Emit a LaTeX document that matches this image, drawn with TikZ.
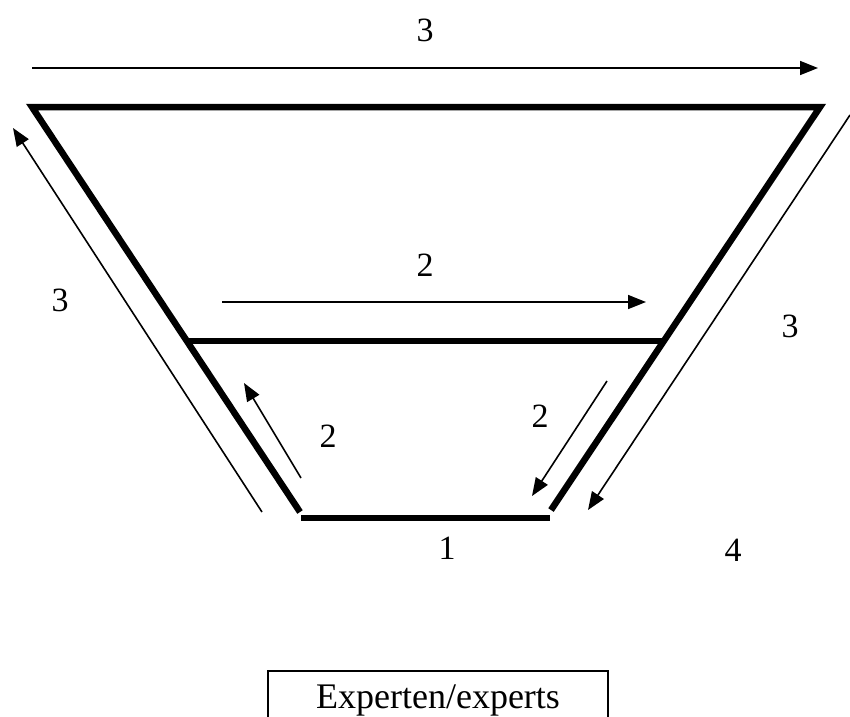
\documentclass[tikz,border=0pt]{standalone}
\usepackage{fontspec}
\setmainfont{Liberation Serif}
\usetikzlibrary{arrows.meta}
\begin{document}
\begin{tikzpicture}[x=1pt,y=-1pt,
  thickline/.style={line width=6.5pt,line join=miter},
  thinarrow/.style={line width=1.6pt,-{Triangle[length=18pt,width=14pt]}},
  lbl/.style={font=\fontsize{34}{40}\selectfont,inner sep=0pt}]
\useasboundingbox (0,0) rectangle (850,716);
% trapezoid corners
\coordinate (tl) at (32,107);
\coordinate (tr) at (820,107);
\coordinate (bl) at (300,512);
\coordinate (br) at (551,510);
\coordinate (b1) at (301,518);
\coordinate (b2) at (550,518);
\coordinate (m1) at (189,341);
\coordinate (m2) at (662,341);
\draw[thickline] (bl) -- (tl) -- (tr) -- (br);
\draw[thickline] (b1) -- (b2);
\draw[thickline] (m1) -- (m2);
% arrows
\coordinate (a3s) at (32,68);
\coordinate (a3e) at (818,68);
\draw[thinarrow] (a3s) -- (a3e);
\coordinate (la) at (262,512);
\coordinate (lb) at (13,128);
\draw[thinarrow] (la) -- (lb);
\coordinate (ma) at (222,302);
\coordinate (mb) at (646,302);
\draw[thinarrow] (ma) -- (mb);
\coordinate (sa) at (301,478);
\coordinate (sb) at (244,383);
\draw[thinarrow] (sa) -- (sb);
\coordinate (ra) at (607,381);
\coordinate (rb) at (532,496);
\draw[thinarrow] (ra) -- (rb);
\coordinate (ka) at (850,115);
\coordinate (kb) at (588,510);
\draw[thinarrow] (ka) -- (kb);
% labels
\node[lbl] (t3) at (425,30) {3};
\node[lbl] (l3) at (60,300) {3};
\node[lbl] (m2l) at (425,265) {2};
\node[lbl] (r3) at (790,326) {3};
\node[lbl] (s2) at (328,436) {2};
\node[lbl] (r2) at (540,416) {2};
\node[lbl] (one) at (447,548) {1};
\node[lbl] (four) at (733,550) {4};
\node[draw,line width=2pt,anchor=north,minimum width=340pt,inner sep=0pt,
  text height=37pt,text depth=40pt,font=\fontsize{36}{40}\selectfont] (exp) at (438,670) {Experten/experts};
\end{tikzpicture}
\end{document}
